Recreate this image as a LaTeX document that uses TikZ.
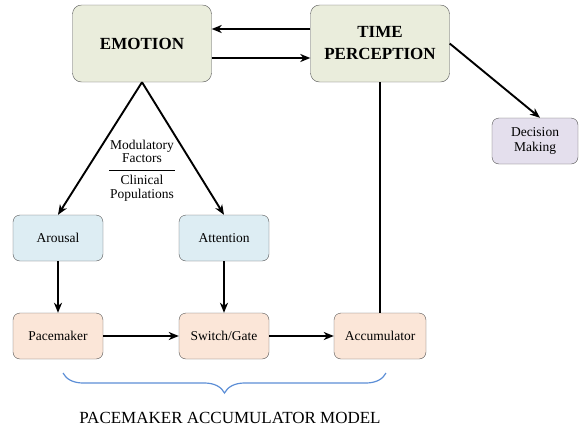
\documentclass[tikz,border=0pt]{standalone}
\usepackage{fontspec}
\setmainfont{Liberation Serif}
\usetikzlibrary{arrows.meta}
\usetikzlibrary{decorations.pathreplacing}
\usetikzlibrary{positioning}
\definecolor{boxedge}{RGB}{85,85,85}
\definecolor{emofill}{RGB}{234,237,220}
\definecolor{modfill}{RGB}{221,237,243}
\definecolor{pamfill}{RGB}{251,230,216}
\definecolor{decfill}{RGB}{228,223,237}
\definecolor{bracecol}{RGB}{92,142,214}

\begin{document}
\begin{tikzpicture}[x=1pt, y=-1pt]
 \tikzstyle{bigbox}=[rectangle, rounded corners=9pt, draw=boxedge, fill=emofill, minimum width=139pt, minimum height=77pt, align=center, font=\fontsize{17}{22}\selectfont\bfseries]
 \tikzstyle{smallbox}=[rectangle, rounded corners=7pt, draw=boxedge, minimum width=90pt, minimum height=46pt, align=center, font=\fontsize{13.5}{15}\selectfont]
 \tikzstyle{line} = [draw, line width=1.9pt, -{Stealth[length=10pt, width=8pt, inset=3pt]}]
 \useasboundingbox (0,0) rectangle (579,429);

 % top row
 \draw (142, 43.5) node[bigbox] (emotion) {EMOTION};
 \draw (380, 43.5) node[bigbox] (time) {TIME\\PERCEPTION};
 \draw (535, 141) node[smallbox, minimum width=86pt, fill=decfill] (decision) {Decision\\Making};
 \path [line] (time.west |- 0,29) -- (emotion.east |- 0,29);
 \path [line] (emotion.east |- 0,58) -- (time.west |- 0,58);
 \path [line] (time.east) -- ([xshift=5pt]decision.north);

 % modulators
 \draw (58, 238) node[smallbox, fill=modfill] (arousal) {Arousal};
 \draw (224, 238) node[smallbox, fill=modfill] (attention) {Attention};
 \path [line] (emotion.south) -- (arousal.north);
 \path [line] (emotion.south) -- (attention.north);
 \draw (142, 151.5) node[align=center, font=\fontsize{13.5}{13.5}\selectfont] (modfac) {Modulatory\\Factors};
 \draw (142, 188) node[align=center, font=\fontsize{13.5}{13.5}\selectfont] (clinpop) {Clinical\\Populations};
 \draw[line width=0.6pt] (109, 170) -- (175, 170);

 % pacemaker accumulator model
 \draw (58, 336) node[smallbox, fill=pamfill] (pacemaker) {Pacemaker};
 \draw (224, 336) node[smallbox, fill=pamfill] (switch) {Switch/Gate};
 \draw (380, 336) node[smallbox, minimum width=92pt, fill=pamfill] (accum) {Accumulator};
 \path [line] (arousal) -- (pacemaker);
 \path [line] (attention) -- (switch);
 \path [line] (pacemaker) -- (switch);
 \path [line] (switch) -- (accum);
 \draw[line width=1.9pt] (accum.north) -- (time.south);

 \draw[bracecol, line width=1.2pt, decorate, decoration={brace, mirror, amplitude=20pt}] (63, 373) -- (386, 373);
 \draw (230, 418) node[font=\fontsize{17}{20}\selectfont] (pamtitle) {PACEMAKER ACCUMULATOR MODEL};
\end{tikzpicture}
\end{document}
